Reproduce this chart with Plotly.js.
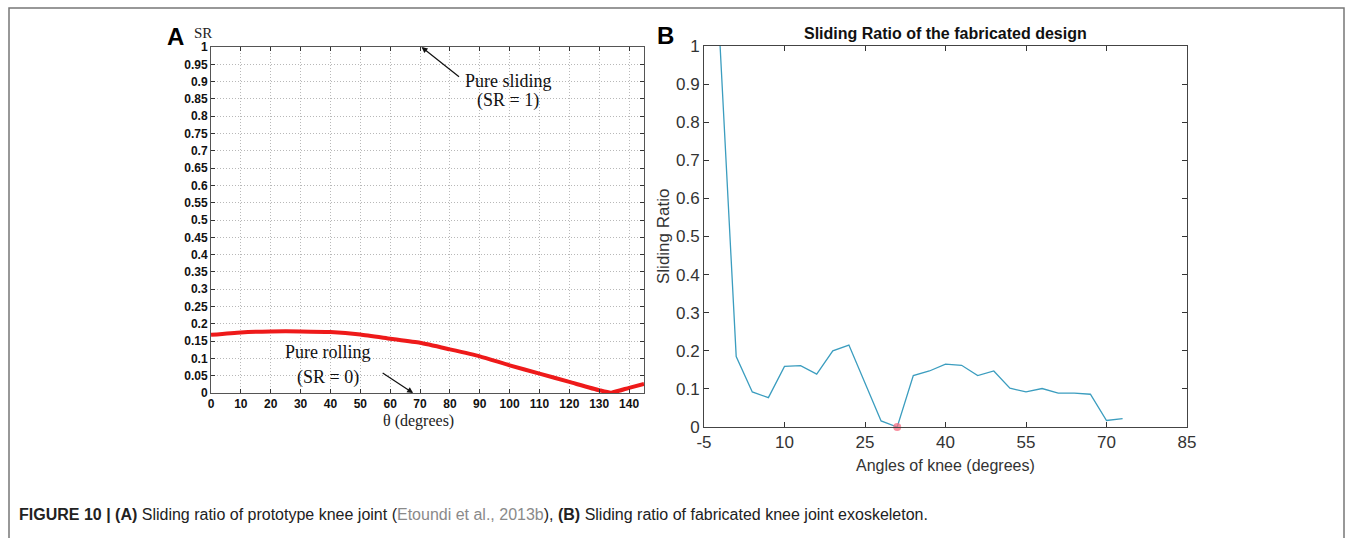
<!DOCTYPE html>
<html>
<head>
<meta charset="utf-8">
<script src="https://cdn.plot.ly/plotly-3.0.1.min.js"></script>
<style>
  html, body { margin: 0; padding: 0; background: #fff; }
  #chart { width: 1355px; height: 538px; }
</style>
</head>
<body>
<div id="chart"></div>
<script>
// ---- Panel A data: sliding ratio of prototype knee joint ----
const thetaA = [0, 10, 20, 30, 40, 50, 60, 70, 80, 90, 100, 110, 120, 130, 134, 140, 145];
const srA    = [0.168, 0.175, 0.178, 0.178, 0.176, 0.169, 0.157, 0.145, 0.126, 0.106, 0.080, 0.056, 0.032, 0.008, 0.001, 0.015, 0.026];
const tickValsAX = [0, 10, 20, 30, 40, 50, 60, 70, 80, 90, 100, 110, 120, 130, 140];
const tickValsAY = [0, 0.05, 0.1, 0.15, 0.2, 0.25, 0.3, 0.35, 0.4, 0.45, 0.5, 0.55, 0.6, 0.65, 0.7, 0.75, 0.8, 0.85, 0.9, 0.95, 1];
const tickTextAY = ["0", "0.05", "0.1", "0.15", "0.2", "0.25", "0.3", "0.35", "0.4", "0.45", "0.5", "0.55", "0.6", "0.65", "0.7", "0.75", "0.8", "0.85", "0.9", "0.95", "1"];

// ---- Panel B data: sliding ratio of fabricated design ----
const angleB = [-2, 1, 4, 7, 10, 13, 16, 19, 22, 25, 28, 31, 34, 37, 40, 43, 46, 49, 52, 55, 58, 61, 64, 67, 70, 73];
const srB    = [1.0, 0.185, 0.092, 0.077, 0.159, 0.161, 0.139, 0.200, 0.215, 0.115, 0.016, 0.0, 0.135, 0.147, 0.165, 0.162, 0.135, 0.147, 0.102, 0.092, 0.101, 0.089, 0.089, 0.086, 0.017, 0.022];
const minPointB = {x: [31], y: [0]};
const tickValsBX = [-5, 10, 25, 40, 55, 70, 85];
const tickTextBX = ["-5", "10", "25", "40", "55", "70", "85"];
const tickValsBY = [0, 0.1, 0.2, 0.3, 0.4, 0.5, 0.6, 0.7, 0.8, 0.9, 1];
const tickTextBY = ["0", "0.1", "0.2", "0.3", "0.4", "0.5", "0.6", "0.7", "0.8", "0.9", "1"];

const W = 1355, H = 538;
const px = v => v / W;
const py = v => 1 - v / H;

const traces = [
  {x: thetaA, y: srA, xaxis: 'x', yaxis: 'y', mode: 'lines', type: 'scatter',
   line: {color: '#ee1a1a', width: 4, shape: 'spline', smoothing: 0.5}, hoverinfo: 'skip'},
  {x: angleB, y: srB, xaxis: 'x2', yaxis: 'y2', mode: 'lines', type: 'scatter',
   line: {color: '#3b9dbf', width: 1.3}, hoverinfo: 'skip'},
  {x: minPointB.x, y: minPointB.y, xaxis: 'x2', yaxis: 'y2', mode: 'markers', type: 'scatter',
   marker: {color: 'rgba(245,110,130,0.75)', size: 8}, cliponaxis: false, hoverinfo: 'skip'}
];

const serif = 'Liberation Serif, Times New Roman, serif';
const sans = 'Liberation Sans, Arial, sans-serif';

function label(x, y, text, font, extra) {
  return Object.assign({xref: 'paper', yref: 'paper', x: px(x), y: py(y), text: text,
    showarrow: false, xanchor: 'center', yanchor: 'middle', font: font}, extra || {});
}

const layout = {
  width: W, height: H,
  margin: {l: 0, r: 0, t: 0, b: 0},
  paper_bgcolor: '#fff', plot_bgcolor: '#fff',
  showlegend: false,
  xaxis: {
    domain: [px(211), px(644)], range: [0, 145], anchor: 'y',
    tickmode: 'array', tickvals: tickValsAX,
    ticks: 'inside', ticklen: 4, tickcolor: '#333',
    showline: true, linecolor: '#555', linewidth: 1, mirror: 'ticks',
    showgrid: true, gridcolor: '#b8b8b8', griddash: '1px,2px', gridwidth: 1,
    zeroline: false,
    tickfont: {family: sans, size: 12, color: '#111', weight: 'bold'}
  },
  yaxis: {
    domain: [py(393), py(47)], range: [0, 1], anchor: 'x',
    tickmode: 'array', tickvals: tickValsAY, ticktext: tickTextAY,
    ticks: 'inside', ticklen: 4, tickcolor: '#333',
    showline: true, linecolor: '#555', linewidth: 1, mirror: 'ticks',
    showgrid: true, gridcolor: '#b8b8b8', griddash: '1px,2px', gridwidth: 1,
    zeroline: false,
    tickfont: {family: sans, size: 12, color: '#111', weight: 'bold'}
  },
  xaxis2: {
    domain: [px(704), px(1187)], range: [-5, 85], anchor: 'y2',
    tickmode: 'array', tickvals: tickValsBX, ticktext: tickTextBX,
    ticks: 'inside', ticklen: 5, tickcolor: '#333',
    showline: true, linecolor: '#444', linewidth: 1, mirror: 'ticks',
    showgrid: false, zeroline: false,
    tickfont: {family: sans, size: 17, color: '#333'}
  },
  yaxis2: {
    domain: [py(427), py(46)], range: [0, 1], anchor: 'x2',
    tickmode: 'array', tickvals: tickValsBY, ticktext: tickTextBY,
    ticks: 'inside', ticklen: 5, tickcolor: '#333',
    showline: true, linecolor: '#444', linewidth: 1, mirror: 'ticks',
    showgrid: false, zeroline: false,
    tickfont: {family: sans, size: 17, color: '#333'}
  },
  shapes: [
    {type: 'rect', xref: 'paper', yref: 'paper', x0: px(9), x1: px(1344), y0: -0.05, y1: py(8),
     line: {color: '#777', width: 1.5}, fillcolor: 'rgba(0,0,0,0)'}
  ],
  annotations: [
    // Panel A labels
    label(175, 37, 'A', {family: sans, size: 24, color: '#000', weight: 'bold'}),
    label(203, 33, 'SR', {family: serif, size: 15, color: '#222'}),
    label(418, 421, 'θ (degrees)', {family: serif, size: 16, color: '#222'}),
    // Pure sliding
    {xref: 'x', yref: 'y', x: 70.5, y: 1, ax: 39, ay: 31, text: '', showarrow: true,
     arrowhead: 2, arrowsize: 1, arrowwidth: 1.2, arrowcolor: '#111'},
    {xref: 'x', yref: 'y', x: 99.5, y: 0.903, text: 'Pure sliding', showarrow: false,
     xanchor: 'center', yanchor: 'middle', font: {family: serif, size: 18, color: '#111'}},
    {xref: 'x', yref: 'y', x: 99.5, y: 0.844, text: '(SR = 1)', showarrow: false,
     xanchor: 'center', yanchor: 'middle', font: {family: serif, size: 18, color: '#111'}},
    // Pure rolling
    {xref: 'x', yref: 'y', x: 67.7, y: 0, ax: -32, ay: -21, text: '', showarrow: true,
     arrowhead: 2, arrowsize: 1, arrowwidth: 1.2, arrowcolor: '#111'},
    {xref: 'x', yref: 'y', x: 39.2, y: 0.118, text: 'Pure rolling', showarrow: false,
     xanchor: 'center', yanchor: 'middle', font: {family: serif, size: 18, color: '#111'}},
    {xref: 'x', yref: 'y', x: 39.2, y: 0.046, text: '(SR = 0)', showarrow: false,
     xanchor: 'center', yanchor: 'middle', font: {family: serif, size: 18, color: '#111'}},
    // Panel B labels
    label(665, 35, 'B', {family: sans, size: 24, color: '#000', weight: 'bold'}),
    label(945, 33, 'Sliding Ratio of the fabricated design', {family: sans, size: 16, color: '#111', weight: 'bold'}),
    label(663, 237, 'Sliding Ratio', {family: sans, size: 17, color: '#333'}, {textangle: -90}),
    label(945, 465, 'Angles of knee (degrees)', {family: sans, size: 16, color: '#333'}),
    // Caption
    label(17, 514, '<b>FIGURE 10 | (A)</b> Sliding ratio of prototype knee joint (<span style="color:#8a8a8a">Etoundi et al., 2013b</span>), <b>(B)</b> Sliding ratio of fabricated knee joint exoskeleton.',
      {family: sans, size: 16, color: '#222'}, {xanchor: 'left'})
  ]
};

Plotly.newPlot('chart', traces, layout, {staticPlot: true, displayModeBar: false});
</script>
</body>
</html>
